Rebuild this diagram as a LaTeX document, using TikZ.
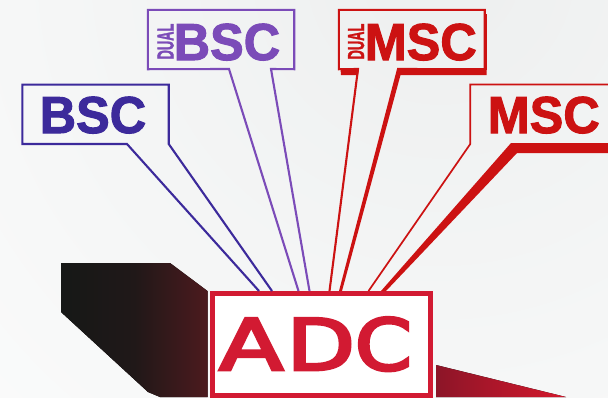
\documentclass[tikz,border=0pt]{standalone}
\usepackage{fontspec}
\usepackage{graphicx}
\setmainfont{Liberation Sans}
\newfontfamily\heavyfont[BoldFeatures={FakeBold=2}]{Liberation Sans}
\newfontfamily\adcfont[FakeBold=4]{DejaVu Sans}
\begin{document}
\begin{tikzpicture}[x=1pt,y=-1pt,
  logotext/.style={inner sep=0pt,anchor=base west,font=\fontsize{52}{52}\heavyfont\bfseries},
  dualtext/.style={inner sep=0pt,anchor=base west,rotate=90,font=\fontsize{23}{23}\heavyfont\bfseries},
  anchorbox/.style={inner sep=0pt,minimum width=#1,minimum height=59pt},
  legline/.style={line width=2.1pt,line join=miter}]
\definecolor{cbsc}{HTML}{3C2A9B}
\definecolor{cdual}{HTML}{7B4BB8}
\definecolor{cmsc}{HTML}{CC1212}
\definecolor{cadc}{HTML}{D21A32}
\definecolor{cbg}{HTML}{EDEFEF}
\useasboundingbox (0,0) rectangle (608,397);
\begin{scope}
\clip (0,0) rectangle (608,397);
\shade[inner color=cbg,outer color=white] (440,-30) circle (860);
\fill[left color={rgb,255:red,22;green,24;blue,23},right color={rgb,255:red,76;green,26;blue,30},middle color={rgb,255:red,32;green,24;blue,24}]
  (61,263) -- (170,263) -- (207.5,291) -- (207.5,397) -- (160,397) -- (148,392) -- (61,312) -- cycle;
\fill[left color={rgb,255:red,140;green,21;blue,40},right color={rgb,255:red,212;green,24;blue,44}]
  (436,365) -- (566,397) -- (436,397) -- cycle;
\end{scope}
\node[draw=cadc,fill=white,line width=5pt,inner sep=0pt,minimum width=218.5pt,minimum height=102pt] (adc) at (321.25,344.5) {};
\node[text=cadc,font=\fontsize{71}{71}\adcfont,inner sep=0pt,anchor=base west] (adctext) at (219,370) {\scalebox{1.32}[1]{A}\kern3.3pt\scalebox{1.25}[1]{D}\scalebox{1.15}[1]{C}};
\node[anchorbox=146pt] (bsc) at (95.5,114.25) {};
\node[anchorbox=146pt] (dbsc) at (221,39.5) {};
\node[anchorbox=145.5pt] (dmsc) at (411.75,39.5) {};
\node[anchorbox=160pt] (msc) at (550.5,114.25) {};
\coordinate (a1) at (259,291);
\coordinate (a2) at (272,291);
\coordinate (a3) at (298.5,291);
\coordinate (a4) at (309.5,291);
\coordinate (a5) at (329.5,291);
\coordinate (a6) at (340,291);
\coordinate (a7) at (368.5,291);
\draw[cbsc,legline] (a1) -- (127,144) -- (bsc.south west) -- (bsc.north west) -- (bsc.north east) -- (bsc.south east) -- (a2);
\draw[cdual,legline] (a3) -- (229,69) -- (dbsc.south west) -- (dbsc.north west) -- (dbsc.north east) -- (dbsc.south east) -- (271,69) -- (a4);
\fill[cmsc] (340.5,69) -- (359,69) -- (358,75) -- (341,75) -- cycle;
\fill[cmsc] (397,69) -- (486.5,69) -- (486.5,75) -- (400.5,75) -- (342,291) -- (339,291) -- cycle;
\fill[cmsc] (484,14) rectangle (486.5,70);
\draw[cmsc,legline] (a5) -- (358,69) -- (dmsc.south west) -- (dmsc.north west) -- (dmsc.north east) -- (dmsc.south east) -- (397,69);
\draw[cmsc,legline,line width=1.7pt] (a7) -- (msc.south west) -- (msc.north west) -- (msc.north east);
\fill[cmsc] (511,143) -- (630,143) -- (630,153) -- (517,153) -- (386,291) -- (381,291) -- cycle;
\node[logotext,text=cbsc,xscale=.97] (t1) at (39.5,133) {BSC};
\node[logotext,text=cdual,xscale=.97] (t2) at (173.5,60) {BSC};
\node[logotext,text=cmsc,xscale=.97] (t3) at (364.5,60) {MSC};
\node[logotext,text=cmsc,xscale=.97] (t4) at (487.5,133) {MSC};
\node[dualtext,text=cdual,xscale=.56] (d1) at (173.5,59.5) {DUAL};
\node[dualtext,text=cmsc,xscale=.56] (d2) at (364,59.5) {DUAL};
\end{tikzpicture}
\end{document}
